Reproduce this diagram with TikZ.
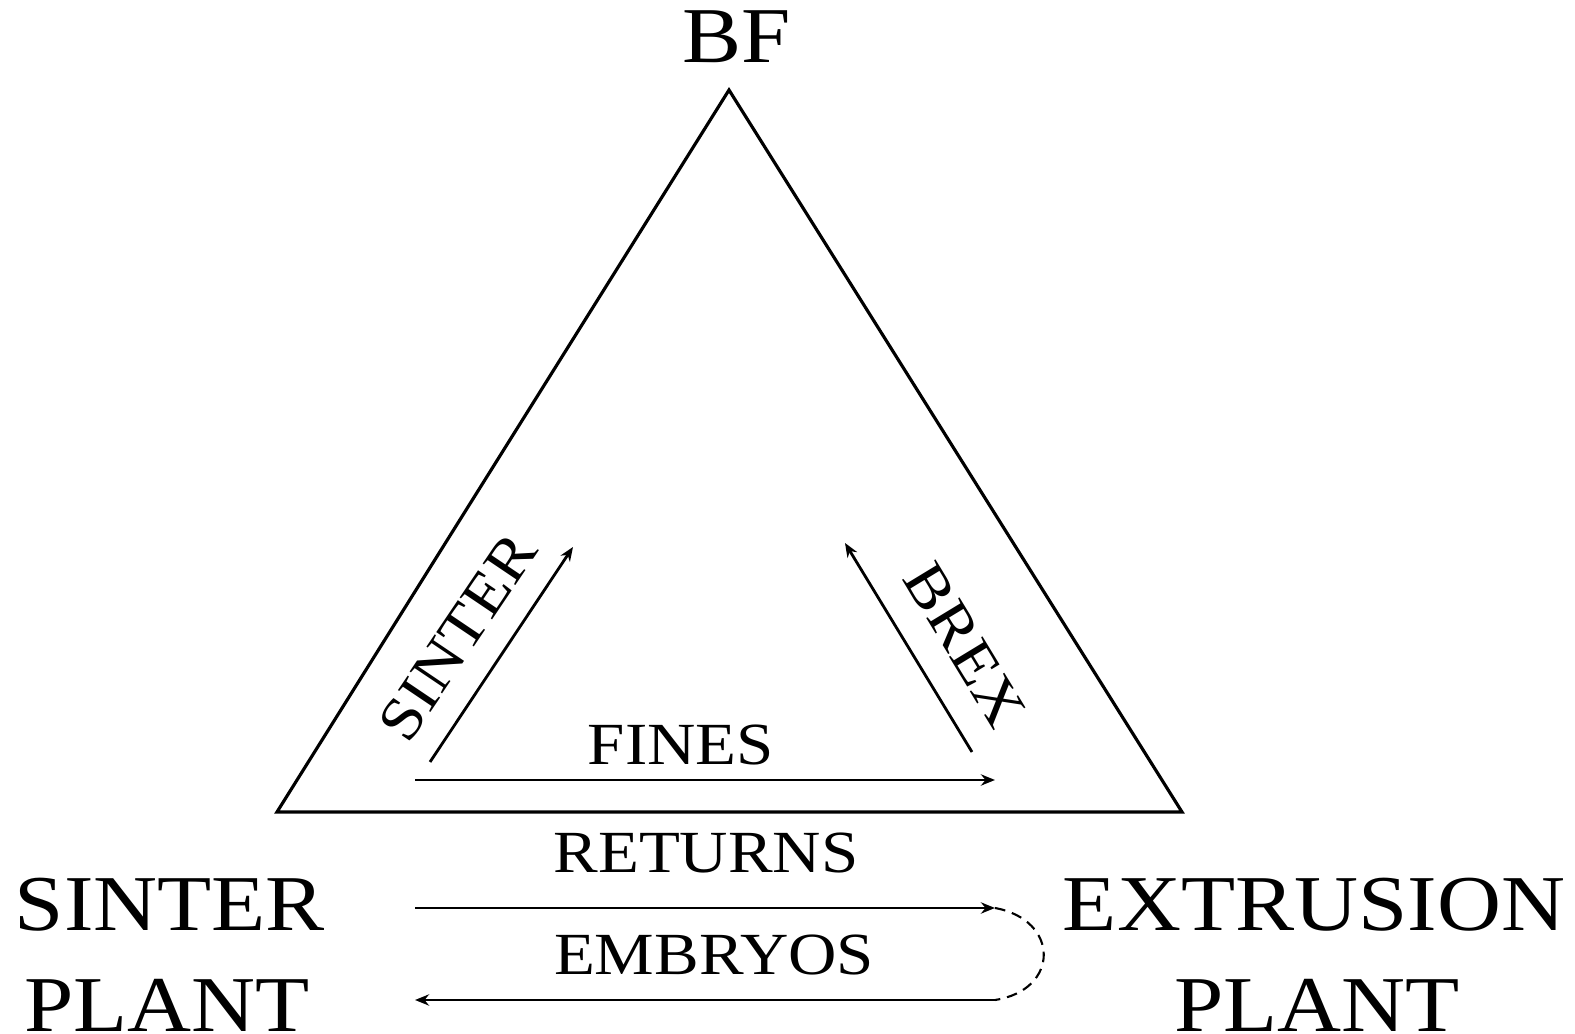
\documentclass[tikz,border=0pt]{standalone}
\usepackage{fontspec}
\setmainfont{Liberation Serif}[FakeStretch=1.12]
\usetikzlibrary{arrows.meta}
\begin{document}
\begin{tikzpicture}[x=0.01cm,y=-0.01cm,
  big/.style={font=\fontsize{22.5}{26}\selectfont, inner sep=0pt, anchor=base},
  mid/.style={font=\fontsize{17}{20}\selectfont, inner sep=0pt, anchor=base},
  rlab/.style={font=\fontsize{17}{20}\selectfont, inner sep=0pt, anchor=center},
  edge/.style={line width=0.9pt},
  flow/.style={line width=0.8pt, -{Stealth[length=4pt,width=3.2pt]}},
  link/.style={line width=0.6pt, densely dashed}]
\useasboundingbox (0,0) rectangle (1575,1034);
% triangle
\coordinate (A) at (729,90);
\coordinate (L) at (277,812);
\coordinate (R) at (1182,812);
\draw[edge] (L) -- (A) -- (R) -- cycle;
% labels
\node[big] (bf) at (737,63) {BF};
\node[big] (sp1) at (170,931) {SINTER};
\node[big] (sp2) at (167,1032) {PLANT};
\node[big] (ep1) at (1314,931) {EXTRUSION};
\node[big] (ep2) at (1317,1032) {PLANT};
\node[mid] (fines) at (681,765) {FINES};
\node[mid] (returns) at (706,873) {RETURNS};
\node[mid] (embryos) at (714,975) {EMBRYOS};
\node[rlab, rotate=56] (sinter) at (458,637) {SINTER};
\node[rlab, rotate=-58.7] (brex) at (965,645) {BREX};
% arrows
\coordinate (s1) at (430,762);
\coordinate (s2) at (573,547);
\coordinate (b1) at (972,752);
\coordinate (b2) at (845,543);
\coordinate (f1) at (415,780);
\coordinate (f2) at (995,780);
\coordinate (r1) at (415,908);
\coordinate (r2) at (995,908);
\coordinate (e1) at (995,1000);
\coordinate (e2) at (415,1000);
\draw[flow] (s1) -- (s2);
\draw[flow] (b1) -- (b2);
\draw[flow] (f1) -- (f2);
\draw[flow] (r1) -- (r2);
\draw[flow] (e1) -- (e2);
\draw[link] (r2) .. controls (1060,920) and (1060,990) .. (e1);
\end{tikzpicture}
\end{document}
